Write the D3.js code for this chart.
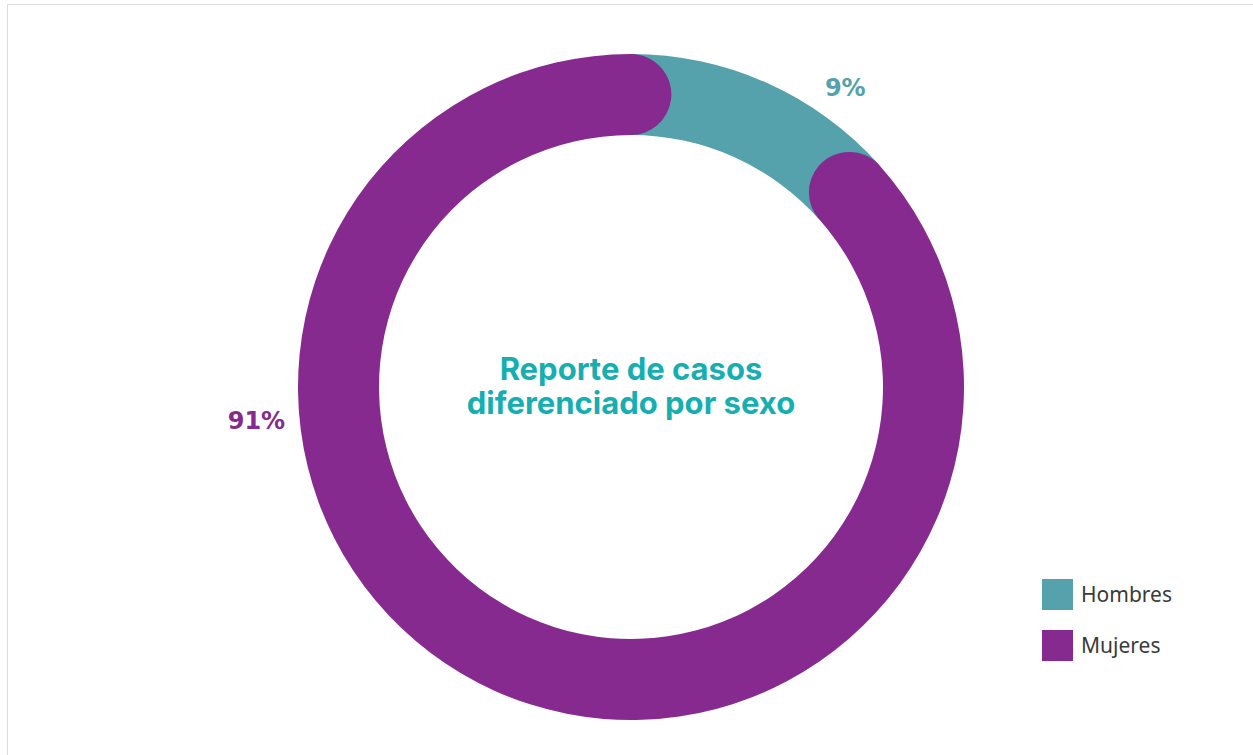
<!DOCTYPE html>
<meta charset="utf-8">
<style>

body {
  margin: 0;
  background: #fff;
}

.pct {
  font: bold 24px "DejaVu Sans", sans-serif;
  text-anchor: middle;
}

.title {
  font: bold 31px Inter, "Liberation Sans", sans-serif;
  fill: #16aeb0;
  text-anchor: middle;
}

.legend text {
  font: 21px "Noto Sans", sans-serif;
  fill: #3a3a3a;
}

</style>
<svg width="1253" height="755"></svg>
<script src="https://d3js.org/d3.v7.min.js"></script>
<script>

var categories = ["Hombres", "Mujeres"],
    values = [9, 91],
    labels = ["9%", "91%"],
    colors = ["#55a1ac", "#862a8f"],
    titleLines = ["Reporte de casos", "diferenciado por sexo"];

var svg = d3.select("svg"),
    width = +svg.attr("width"),
    height = +svg.attr("height");

// light frame round the chart
svg.append("path")
    .attr("d", "M7.5,755V4.5H1253")
    .attr("fill", "none")
    .attr("stroke", "#dcdcdc");

var cx = 631, cy = 387,
    outer = 333, inner = 252,
    mid = (outer + inner) / 2,
    cap = (outer - inner) / 2 / mid; // angle taken by a round end

var data = categories.map(function(c, i) { return {name: c, value: values[i], label: labels[i]}; });

var pie = d3.pie()
    .sort(null)
    .value(function(d) { return d.value; })
    .startAngle(cap)
    .endAngle(cap + 2 * Math.PI);

var arcs = pie(data);

var g = svg.append("g")
    .attr("transform", "translate(" + cx + "," + cy + ")");

var ring = d3.arc().innerRadius(inner).outerRadius(outer);

// Hombres sits under the rounded ends of Mujeres
g.append("path")
    .attr("d", ring({startAngle: arcs[0].startAngle - cap, endAngle: arcs[0].endAngle + cap}))
    .attr("fill", colors[0]);

g.append("path")
    .attr("d", ring.cornerRadius((outer - inner) / 2)(arcs[1]))
    .attr("fill", colors[1]);

// percentage labels
var labelAngle = [35.5 * Math.PI / 180, 265 * Math.PI / 180],
    labelRadius = [369, 376];

g.selectAll("text.pct")
  .data(arcs)
  .enter().append("text")
    .attr("class", "pct")
    .attr("x", function(d, i) { return labelRadius[i] * Math.sin(labelAngle[i]); })
    .attr("y", function(d, i) { return -labelRadius[i] * Math.cos(labelAngle[i]) + 9; })
    .attr("fill", function(d, i) { return colors[i]; })
    .text(function(d) { return d.data.label; });

// centre title
g.append("text")
    .attr("class", "title")
  .selectAll("tspan")
  .data(titleLines)
  .enter().append("tspan")
    .attr("x", 0)
    .attr("y", function(d, i) { return -7 + i * 34; })
    .text(function(d) { return d; });

// legend
var legend = svg.append("g")
    .attr("class", "legend")
    .attr("transform", "translate(1042,579)");

var item = legend.selectAll("g")
  .data(data)
  .enter().append("g")
    .attr("transform", function(d, i) { return "translate(0," + i * 51 + ")"; });

item.append("rect")
    .attr("width", 31)
    .attr("height", 31)
    .attr("fill", function(d, i) { return colors[i]; });

item.append("text")
    .attr("x", 39)
    .attr("y", 23)
    .text(function(d) { return d.name; });

</script>
